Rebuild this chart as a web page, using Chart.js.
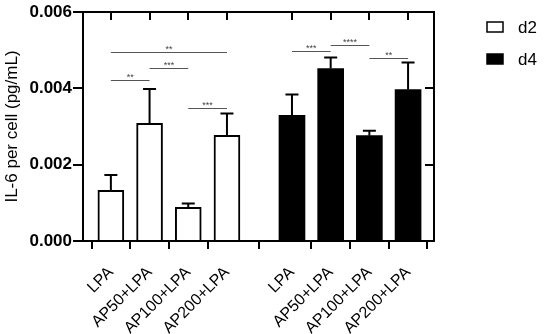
<!DOCTYPE html>
<html>
<head>
<meta charset="utf-8">
<title>IL-6 per cell</title>
<style>
  html, body { margin: 0; padding: 0; background: #fff; }
  #wrap { width: 550px; height: 334px; }
</style>
</head>
<body>
<div id="wrap"><canvas id="myChart"></canvas></div>

<script src="https://cdn.jsdelivr.net/npm/chart.js"></script>
<script>
// data
const categories = ['LPA', 'AP50+LPA', 'AP100+LPA', 'AP200+LPA'];
const groups = ['d2', 'd4'];
const d2Mean = [0.00133, 0.00308, 0.00088, 0.00277];
const d2Err  = [0.00040, 0.00090, 0.00010, 0.00057];
const d4Mean = [0.00329, 0.00452, 0.00276, 0.00397];
const d4Err  = [0.00055, 0.00029, 0.00013, 0.00071];
const yTicks = [0, 0.002, 0.004, 0.006];

// significance brackets: [group, from, to, height, label]
const sigBars = [
  [0, 0, 3, 0.00494, '**'],
  [0, 1, 2, 0.00452, '***'],
  [0, 0, 1, 0.00422, '**'],
  [0, 2, 3, 0.00349, '***'],
  [1, 0, 1, 0.00498, '***'],
  [1, 1, 2, 0.00514, '****'],
  [1, 2, 3, 0.00480, '**']
];

const FONT = "'Liberation Sans', Arial, sans-serif";
const groupStep = categories.length + 0.68; // gap between the two groups
const slot = (g, i) => g * groupStep + i;

const xTicks = [];
const xLabels = [];
groups.forEach((g, gi) => categories.forEach((c, i) => { xTicks.push(slot(gi, i)); xLabels.push(c); }));

const mk = (means, gi) => means.map((v, i) => ({ x: slot(gi, i), y: v }));

const errorBars = {
  id: 'errorBars',
  afterDatasetsDraw(chart) {
    const ctx = chart.ctx, y = chart.scales.y;
    const errs = [d2Err, d4Err];
    ctx.save();
    ctx.strokeStyle = '#000';
    ctx.lineWidth = 2;
    chart.data.datasets.forEach((ds, di) => {
      chart.getDatasetMeta(di).data.forEach((bar, i) => {
        const top = y.getPixelForValue(ds.data[i].y + errs[di][i]);
        ctx.beginPath();
        ctx.moveTo(bar.x, bar.y);
        ctx.lineTo(bar.x, top);
        ctx.moveTo(bar.x - 6.5, top);
        ctx.lineTo(bar.x + 6.5, top);
        ctx.stroke();
      });
    });
    ctx.restore();
  }
};

const extras = {
  id: 'extras',
  afterDraw(chart) {
    const ctx = chart.ctx, a = chart.chartArea;
    const x = chart.scales.x, y = chart.scales.y;
    ctx.save();
    // frame top/right with inward ticks
    ctx.strokeStyle = '#000';
    ctx.lineWidth = 2;
    ctx.beginPath();
    ctx.moveTo(a.left, a.top);
    ctx.lineTo(a.right, a.top);
    ctx.lineTo(a.right, a.bottom);
    xTicks.forEach(v => {
      const px = Math.round(x.getPixelForValue(v));
      ctx.moveTo(px, a.top);
      ctx.lineTo(px, a.top + 8);
    });
    yTicks.slice(1, -1).forEach(v => {
      const py = Math.round(y.getPixelForValue(v));
      ctx.moveTo(a.right, py);
      ctx.lineTo(a.right - 9, py);
    });
    ctx.stroke();

    // significance lines
    ctx.strokeStyle = '#555';
    ctx.fillStyle = '#444';
    ctx.lineWidth = 1.2;
    ctx.font = '9px ' + FONT;
    ctx.textAlign = 'center';
    ctx.textBaseline = 'alphabetic';
    sigBars.forEach(([g, f, t, h, lab]) => {
      const x1 = x.getPixelForValue(slot(g, f));
      const x2 = x.getPixelForValue(slot(g, t));
      const py = Math.round(y.getPixelForValue(h)) + 0.5;
      ctx.beginPath();
      ctx.moveTo(x1, py);
      ctx.lineTo(x2, py);
      ctx.stroke();
      ctx.fillText(lab, (x1 + x2) / 2, py - 1);
    });

    // legend
    ctx.font = '17px ' + FONT;
    ctx.textAlign = 'left';
    ctx.textBaseline = 'middle';
    chart.data.datasets.forEach((ds, i) => {
      const cy = 27 + i * 32;
      ctx.fillStyle = ds.backgroundColor;
      ctx.fillRect(487, cy - 5, 16, 10);
      ctx.strokeStyle = '#000';
      ctx.lineWidth = 1.5;
      ctx.strokeRect(487, cy - 5, 16, 10);
      ctx.fillStyle = '#000';
      ctx.fillText(ds.label, 518, cy + 1);
    });
    ctx.restore();
  }
};

new Chart(document.getElementById('myChart'), {
  type: 'bar',
  data: {
    datasets: [
      { label: groups[0], data: mk(d2Mean, 0), backgroundColor: '#ffffff', borderColor: '#000', borderWidth: 2 },
      { label: groups[1], data: mk(d4Mean, 1), backgroundColor: '#000000', borderColor: '#000', borderWidth: 0 }
    ]
  },
  options: {
    responsive: true,
    maintainAspectRatio: false,
    animation: false,
    devicePixelRatio: 1,
    layout: { padding: { top: 12, right: 116, left: 0, bottom: 0 } },
    datasets: { bar: { grouped: false, barThickness: 26 } },
    plugins: { legend: { display: false }, tooltip: { enabled: false } },
    scales: {
      x: {
        type: 'linear',
        min: -0.72,
        max: slot(1, 3) + 0.67,
        offset: false,
        afterBuildTicks: axis => { axis.ticks = xTicks.map(v => ({ value: v })); },
        afterFit: axis => { axis.height = 93; },
        grid: { drawOnChartArea: false, drawTicks: true, tickLength: 8, lineWidth: 2, color: '#000' },
        border: { display: true, width: 2, color: '#000' },
        ticks: {
          autoSkip: false,
          minRotation: 45,
          maxRotation: 45,
          padding: 14,
          color: '#000',
          font: { family: FONT, size: 16 },
          callback: (v, i) => xLabels[i]
        }
      },
      y: {
        min: 0,
        max: 0.006,
        afterBuildTicks: axis => { axis.ticks = yTicks.map(v => ({ value: v })); },
        afterFit: axis => { axis.width = 83; },
        grid: { drawOnChartArea: false, drawTicks: true, tickLength: 10, lineWidth: 2, color: '#000' },
        border: { display: true, width: 2, color: '#000' },
        ticks: {
          padding: 1,
          color: '#000',
          font: { family: FONT, size: 17, weight: 'bold' },
          callback: v => v.toFixed(3)
        },
        title: {
          display: true,
          text: 'IL-6 per cell (pg/mL)',
          color: '#000',
          padding: { top: 2, bottom: 0 },
          font: { family: FONT, size: 17 }
        }
      }
    }
  },
  plugins: [errorBars, extras]
});
</script>
</body>
</html>
